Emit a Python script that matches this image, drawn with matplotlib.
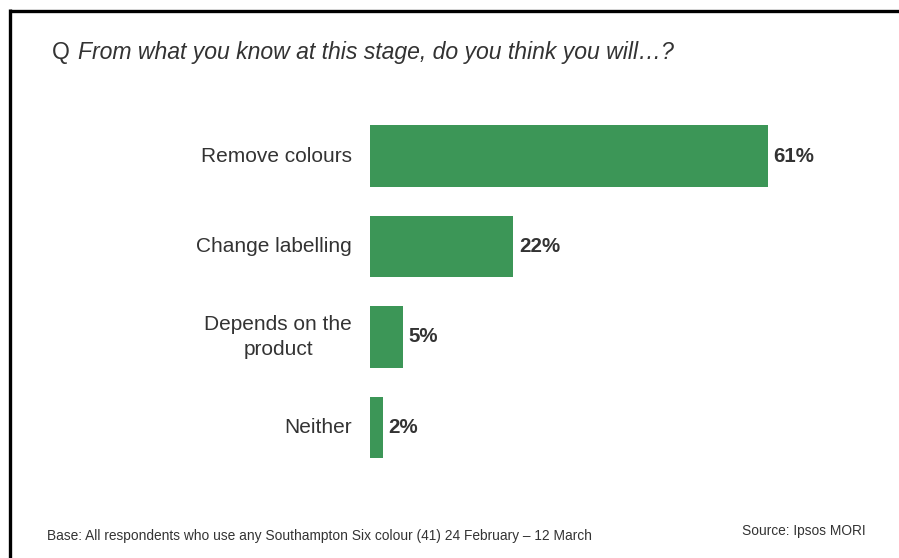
import matplotlib.pyplot as plt
from matplotlib.lines import Line2D

plt.rcParams['font.family'] = ['Liberation Sans', 'DejaVu Sans']

# Survey answers and shares (%)
categories = ['Remove colours', 'Change labelling', 'Depends on the\nproduct', 'Neither']
shares = [61, 22, 5, 2]

question_prefix = 'Q'
question = 'From what you know at this stage, do you think you will\u2026?'
base_note = 'Base: All respondents who use any Southampton Six colour (41) 24 February \u2013 12 March'
source_note = 'Source: Ipsos MORI'

W, H = 899, 558
BAR_GREEN = '#3C9657'
TEXT_DARK = '#333333'

fig = plt.figure(figsize=(W / 100, H / 100), dpi=100)

# axes placed in pixel terms: left edge of bars at x=370, rows 110..473 px from top
ax_left, ax_right = 370, 370 + 6.52 * 70
ax_top, ax_bottom = 110.75, 472.75
ax = fig.add_axes([ax_left / W, 1 - ax_bottom / H,
                   (ax_right - ax_left) / W, (ax_bottom - ax_top) / H])

ypos = list(range(len(categories)))
ax.barh(ypos, shares, height=0.685, color=BAR_GREEN, edgecolor='none')
ax.set_xlim(0, 70)
ax.set_ylim(len(categories) - 0.5, -0.5)
ax.axis('off')

for y, v, cat in zip(ypos, shares, categories):
    ax.annotate(f'{v}%', xy=(v, y), xytext=(4, 0), textcoords='offset points',
                ha='left', va='center', fontsize=14.8, fontweight='bold', color=TEXT_DARK)
    ax.annotate(cat, xy=(0, y), xytext=(-13, 0), textcoords='offset points',
                ha='right', va='center', multialignment='center',
                fontsize=15, color=TEXT_DARK, linespacing=1.38)

# question header
fig.text(52 / W, 1 - 52 / H, question_prefix, fontsize=16.6, color=TEXT_DARK, va='center')
fig.text(78 / W, 1 - 52 / H, question, fontsize=16.6, style='italic', color=TEXT_DARK, va='center')

# footnotes
fig.text(47 / W, 1 - 536 / H, base_note, fontsize=9.9, color=TEXT_DARK, va='center')
fig.text(866 / W, 1 - 531 / H, source_note, fontsize=9.9, color=TEXT_DARK, va='center', ha='right')

# black frame along the top and left side
fig.add_artist(Line2D([9.5 / W, 1.0], [1 - 10.5 / H, 1 - 10.5 / H], color='black', lw=2.4,
                      solid_capstyle='butt', transform=fig.transFigure))
fig.add_artist(Line2D([9.5 / W, 9.5 / W], [1 - 9.3 / H, 0.0], color='black', lw=2.4,
                      solid_capstyle='butt', transform=fig.transFigure))

fig.savefig('out.png', dpi=100)
